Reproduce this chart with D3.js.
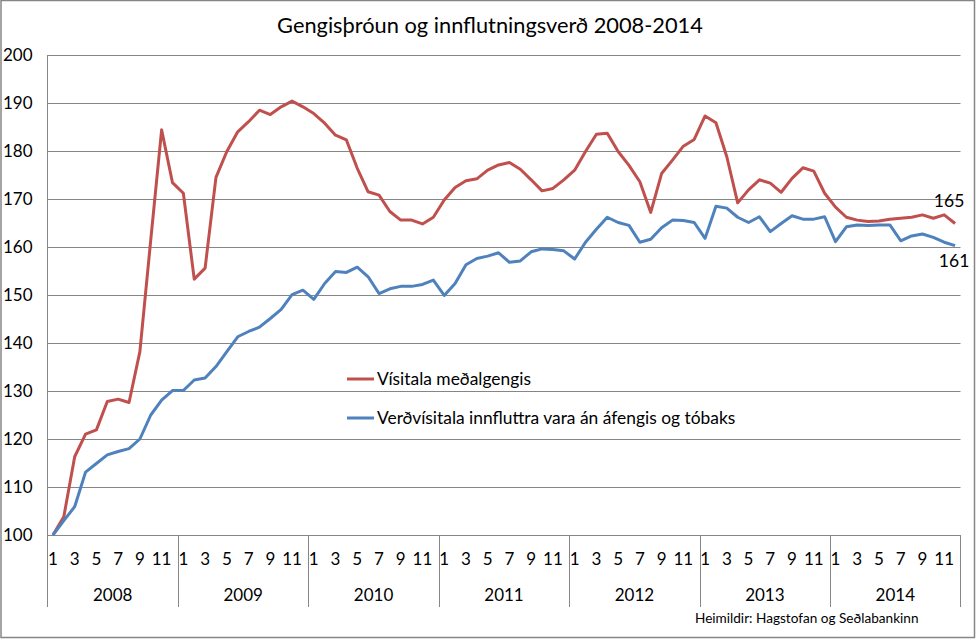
<!DOCTYPE html>
<html><head><meta charset="utf-8">
<script src="https://cdn.jsdelivr.net/npm/d3@7"></script>
<style>
html,body{margin:0;padding:0;background:#fff;}
svg{display:block;font-family:Lato,"Open Sans",sans-serif;}
</style></head>
<body>
<svg id="c" width="976" height="639"></svg>
<script>
const years = [2008,2009,2010,2011,2012,2013,2014];
const months = [1,2,3,4,5,6,7,8,9,10,11,12];
const yTicks = [100,110,120,130,140,150,160,170,180,190,200];
const seriesNames = ["Vísitala meðalgengis","Verðvísitala innfluttra vara án áfengis og tóbaks"];
const gengi = [
 100,103.8,116.3,121.0,121.9,127.8,128.3,127.6,138.2,161.5,184.4,173.4,
 171.2,153.3,155.6,174.5,179.9,184.0,186.1,188.5,187.6,189.2,190.4,189.2,
 187.8,185.8,183.3,182.3,176.4,171.5,170.8,167.4,165.6,165.6,164.8,166.2,
 169.8,172.4,173.8,174.2,176.0,177.1,177.6,176.2,174.0,171.7,172.2,174.0,
 176.0,179.9,183.5,183.7,179.9,177.0,173.6,167.2,175.3,178.1,181.0,182.4,
 187.3,185.9,178.8,169.2,171.9,174.0,173.3,171.4,174.3,176.5,175.8,171.2,
 168.3,166.2,165.6,165.3,165.4,165.8,166.0,166.2,166.7,166.0,166.7,164.9
];
const innflutningur = [
 100,103.0,105.9,113.1,114.9,116.7,117.4,118.0,120.0,125.0,128.1,130.1,
 130.1,132.3,132.7,135.1,138.2,141.3,142.4,143.3,145.1,147.0,150.1,151.0,
 149.1,152.4,154.9,154.7,155.8,153.8,150.3,151.3,151.8,151.8,152.2,153.1,
 149.9,152.4,156.3,157.6,158.1,158.8,156.8,157.1,159.0,159.6,159.5,159.2,
 157.5,161.0,163.7,166.2,165.1,164.5,161.0,161.6,164.0,165.6,165.5,165.1,
 161.8,168.5,168.1,166.2,165.1,166.3,163.2,164.9,166.5,165.8,165.8,166.3,
 161.1,164.2,164.6,164.5,164.6,164.6,161.3,162.3,162.7,162.0,161.0,160.3
];
const endLabels = ["165","161"];
const colors = ["#C0504D","#4F81BD"];

const cats = [];
years.forEach(y => months.forEach(m => cats.push(y + "-" + m)));

const svg = d3.select("#c");
const L = 47.5, R = 960.5, T = 55, B = 535;
const x = d3.scaleBand().domain(cats).range([L, R]).padding(0);
const y = d3.scaleLinear().domain([100,200]).range([B, T]);
const cx = d => x(d) + x.bandwidth()/2;
const grid = "#868686";

// outer border
svg.append("rect").attr("x",1).attr("y",0.5).attr("width",973.5).attr("height",637)
  .attr("fill","none").attr("stroke",grid).attr("stroke-width",1.5);

// title
svg.append("text").attr("x",490).attr("y",33).attr("text-anchor","middle")
  .attr("font-size",21.8).attr("fill","#000").text("Gengisþróun og innflutningsverð 2008-2014");

// gridlines
svg.append("g").selectAll("line").data(yTicks).join("line")
  .attr("x1",L).attr("x2",R).attr("y1",d=>Math.round(y(d))+0.5).attr("y2",d=>Math.round(y(d))+0.5)
  .attr("stroke",grid).attr("stroke-width",1);

// y axis line
svg.append("line").attr("x1",L).attr("x2",L).attr("y1",T).attr("y2",607).attr("stroke",grid);

// y tick labels
svg.append("g").selectAll("text").data(yTicks).join("text")
  .attr("x",3).attr("y",d=>y(d)).attr("dy","0.35em").attr("font-size",17).attr("fill","#000")
  .text(d=>d);

// year separators
svg.append("g").selectAll("line").data(years.slice(1).concat(["end"])).join("line")
  .attr("x1",(d,i)=> i < years.length-1 ? Math.round(x(d+"-1"))+0.5 : R)
  .attr("x2",(d,i)=> i < years.length-1 ? Math.round(x(d+"-1"))+0.5 : R)
  .attr("y1",B).attr("y2",607).attr("stroke",grid);

// month labels (odd months)
svg.append("g").selectAll("text").data(cats.filter(c => (+c.split("-")[1]) % 2 === 1)).join("text")
  .attr("x",d=>cx(d)).attr("y",559).attr("dy","0.35em").attr("text-anchor","middle")
  .attr("font-size",17).attr("fill","#000").text(d=>d.split("-")[1]);

// year labels
svg.append("g").selectAll("text").data(years).join("text")
  .attr("x",d=>(x(d+"-1") + x(d+"-12") + x.bandwidth())/2).attr("y",595).attr("dy","0.35em")
  .attr("text-anchor","middle").attr("font-size",17).attr("fill","#000").text(d=>d);

// lines
const line = d3.line().x((d,i)=>cx(cats[i])).y(d=>y(d));
[gengi, innflutningur].forEach((s,k) => {
  svg.append("path").datum(s).attr("d",line).attr("fill","none")
    .attr("stroke",colors[k]).attr("stroke-width",3).attr("stroke-linejoin","round");
});

// end labels
const last = cats[cats.length-1];
svg.append("text").attr("x",cx(last)-6).attr("y",y(gengi[gengi.length-1])-23).attr("dy","0.35em")
  .attr("text-anchor","middle").attr("font-size",17.5).text(endLabels[0]);
svg.append("text").attr("x",cx(last)-1).attr("y",y(innflutningur[innflutningur.length-1])+15).attr("dy","0.35em")
  .attr("text-anchor","middle").attr("font-size",17.5).text(endLabels[1]);

// legend
const lg = svg.append("g");
[379, 418].forEach((ly,k) => {
  lg.append("line").attr("x1",347).attr("x2",374).attr("y1",ly).attr("y2",ly)
    .attr("stroke",colors[k]).attr("stroke-width",3);
  lg.append("text").attr("x",377).attr("y",ly).attr("dy","0.35em").attr("font-size",17.4)
    .attr("fill","#000").text(seriesNames[k]);
});

// source
svg.append("text").attr("x",695).attr("y",618).attr("dy","0.35em").attr("font-size",13.6)
  .attr("fill","#000").text("Heimildir: Hagstofan og Seðlabankinn");
</script>
</body></html>
